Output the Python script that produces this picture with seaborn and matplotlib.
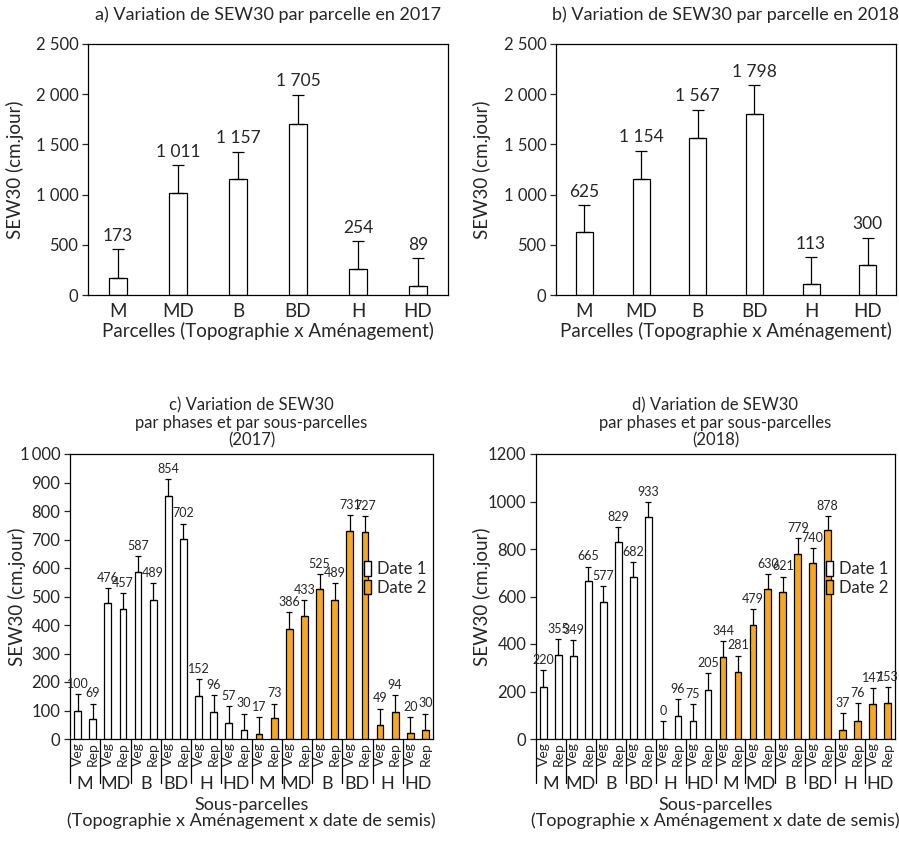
import matplotlib
matplotlib.use('Agg')
import matplotlib.pyplot as plt
import matplotlib.transforms as mtransforms
from matplotlib.patches import Patch
from matplotlib.ticker import FuncFormatter
import seaborn as sns
import pandas as pd
import numpy as np

# Parcelles (Topographie x Aménagement)
parcelles = ['M', 'MD', 'B', 'BD', 'H', 'HD']
sew_2017 = [173, 1011, 1157, 1705, 254, 89]
err_2017 = [284, 282, 270, 288, 279, 278]
sew_2018 = [625, 1154, 1567, 1798, 113, 300]
err_2018 = [268, 283, 280, 289, 264, 270]

# Sous-parcelles: for each parcelle, Veg then Rep
phases = ['Veg', 'Rep']
dates = ['Date 1', 'Date 2']
sub_2017_d1 = [100, 69, 476, 457, 587, 489, 854, 702, 152, 96, 57, 30]
sub_2017_d2 = [17, 73, 386, 433, 525, 489, 731, 727, 49, 94, 20, 30]
sub_err_2017_d1 = [57, 55, 53, 55, 55, 57, 57, 54, 58, 57, 58, 59]
sub_err_2017_d2 = [59, 51, 58, 55, 54, 57, 54, 54, 58, 59, 56, 59]
sub_2018_d1 = [220, 355, 349, 665, 577, 829, 682, 933, 0, 96, 75, 205]
sub_2018_d2 = [344, 281, 479, 630, 621, 779, 740, 878, 37, 76, 147, 153]
sub_err_2018_d1 = [71, 65, 68, 61, 68, 63, 63, 65, 76, 71, 71, 72]
sub_err_2018_d2 = [68, 70, 69, 66, 63, 67, 64, 62, 71, 74, 67, 65]

orange = '#F7A823'

sns.set_style('ticks')
plt.rcParams['font.family'] = ['Lato', 'DejaVu Sans']
plt.rcParams['axes.linewidth'] = 0.9


def fmt_space(v, pos=None):
    return f"{int(round(v)):,}".replace(',', ' ')


def fmt_thin(v, pos=None):
    return f"{int(round(v)):,}".replace(',', '\u2009')


def fmt_plain(v, pos=None):
    return f"{int(round(v))}"


def style_axes(ax, ylabel_x):
    for s in ax.spines.values():
        s.set_visible(True)
        s.set_color('black')
        s.set_linewidth(0.9)
    ax.tick_params(axis='y', direction='out', length=4, width=0.9, labelsize=12, pad=3)
    ax.tick_params(axis='x', length=0)
    ax.set_ylabel('SEW30 (cm.jour)', fontsize=13.5)
    ax.yaxis.set_label_coords(ylabel_x, 0.5)


def draw_parcelles(ax, values, errors, title, ylabel_x):
    df = pd.DataFrame({'parcelle': parcelles, 'sew': values})
    sns.barplot(data=df, x='parcelle', y='sew', order=parcelles, color='white',
                saturation=1, edgecolor='black', linewidth=0.9, width=0.3, ax=ax)
    x = np.arange(len(parcelles))
    ax.errorbar(x, values, yerr=[np.zeros(len(values)), errors], fmt='none',
                ecolor='black', elinewidth=0.9, capsize=4, capthick=0.9)
    for xi, v, e in zip(x, values, errors):
        ax.annotate(fmt_space(v), (xi, v + e), xytext=(0, 4), textcoords='offset points',
                    ha='center', va='bottom', fontsize=12.5)
    ax.set_xlim(-0.5, 5.5)
    ax.set_ylim(0, 2500)
    ax.set_yticks(np.arange(0, 2501, 500))
    ax.yaxis.set_major_formatter(FuncFormatter(fmt_space))
    style_axes(ax, ylabel_x)
    ax.tick_params(axis='x', labelsize=13.5, pad=6)
    ax.set_xlabel('Parcelles (Topographie x Aménagement)', fontsize=13.5, labelpad=1)
    ax.set_title(title, fontsize=13, pad=17)


def draw_sous(ax, d1, d2, e1, e2, ymax, ystep, formatter, title, ylabel_x):
    rows = []
    for d, vals in zip(dates, [d1, d2]):
        for i, g in enumerate(parcelles):
            for j, p in enumerate(phases):
                rows.append({'pos': f'{d}|{g}|{p}', 'date': d, 'sew': vals[2 * i + j]})
    df = pd.DataFrame(rows)
    sns.barplot(data=df, x='pos', y='sew', hue='date', palette={'Date 1': 'white', 'Date 2': orange},
                dodge=False, width=0.45, edgecolor='black', linewidth=0.9, saturation=1,
                ax=ax, legend=False)
    vals = list(d1) + list(d2)
    errs = list(e1) + list(e2)
    x = np.arange(len(vals))
    ax.errorbar(x, vals, yerr=[np.zeros(len(vals)), errs], fmt='none',
                ecolor='black', elinewidth=0.9, capsize=2.5, capthick=0.9)
    for xi, v, e in zip(x, vals, errs):
        ax.annotate(str(v), (xi, v + e), xytext=(0, 3), textcoords='offset points',
                    ha='center', va='bottom', fontsize=9)
    ax.set_xlim(-0.5, len(vals) - 0.5)
    ax.set_ylim(0, ymax)
    ax.set_yticks(np.arange(0, ymax + 1, ystep))
    ax.yaxis.set_major_formatter(FuncFormatter(formatter))
    style_axes(ax, ylabel_x)
    ax.set_xticks(x)
    ax.set_xticklabels(phases * (len(vals) // 2), rotation=90, fontsize=10)
    ax.tick_params(axis='x', pad=2)
    ax.set_xlabel('')

    trans = mtransforms.blended_transform_factory(ax.transData, ax.transAxes)
    for k in range(len(dates)):
        for i, g in enumerate(parcelles):
            left = 12 * k + 2 * i - 0.5
            ax.plot([left, left], [0, -0.155], transform=trans, color='black', lw=0.9, clip_on=False)
            ax.text(left + 1, -0.13, g, transform=trans, ha='center', va='top', fontsize=13)
    ax.text(0.5, -0.205, 'Sous-parcelles\n(Topographie x Aménagement x date de semis)',
            transform=ax.transAxes, ha='center', va='top', fontsize=13, linespacing=0.95)

    handles = [Patch(facecolor='white', edgecolor='black', label='Date 1'),
               Patch(facecolor=orange, edgecolor='black', label='Date 2')]
    ax.legend(handles=handles, loc='upper right', bbox_to_anchor=(1.01, 0.66), frameon=False,
              handlelength=0.45, handleheight=1.0, handletextpad=0.35, fontsize=12,
              labelspacing=0.15, borderaxespad=0.2)
    ax.set_title(title, fontsize=12, pad=6, linespacing=1.1)


fig = plt.figure(figsize=(8.99, 8.42), dpi=100)
W, H = 899, 842

ax_a = fig.add_axes([88 / W, 1 - 295 / H, 360 / W, 251 / H])
ax_b = fig.add_axes([556 / W, 1 - 295 / H, 340 / W, 251 / H])
ax_c = fig.add_axes([70 / W, 1 - 739 / H, 363 / W, 285 / H])
ax_d = fig.add_axes([536 / W, 1 - 739 / H, 359 / W, 285 / H])

draw_parcelles(ax_a, sew_2017, err_2017, 'a) Variation de SEW30 par parcelle en 2017', -0.178)
draw_parcelles(ax_b, sew_2018, err_2018, 'b) Variation de SEW30 par parcelle en 2018', -0.19)
draw_sous(ax_c, sub_2017_d1, sub_2017_d2, sub_err_2017_d1, sub_err_2017_d2, 1000, 100, fmt_thin,
          'c) Variation de SEW30\npar phases et par sous-parcelles\n(2017)', -0.121)
draw_sous(ax_d, sub_2018_d1, sub_2018_d2, sub_err_2018_d1, sub_err_2018_d2, 1200, 200, fmt_plain,
          'd) Variation de SEW30\npar phases et par sous-parcelles\n(2018)', -0.125)

fig.savefig('out.png', dpi=100)
